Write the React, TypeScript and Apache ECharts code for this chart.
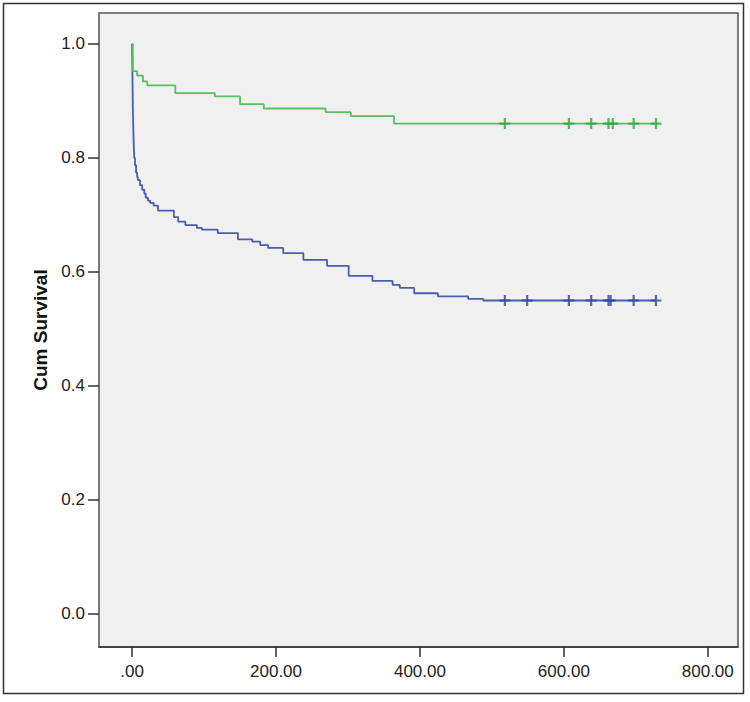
import React, { useEffect, useRef } from "react";
import * as echarts from "echarts";

// Kaplan-Meier steps: time where survival changes, and survival from that time on
const blueTimes = [0, 0.3, 0.7, 1, 1.5, 2, 2.5, 3, 4, 5.5, 7, 8, 11, 14, 17, 19, 22, 25, 30, 36, 58, 64, 74, 90, 97, 119, 147, 167, 178, 189, 210, 238, 271, 301, 334, 362, 372, 392, 425, 467, 488, 728];
const blueSurv = [1.0, 0.96, 0.92, 0.89, 0.86, 0.835, 0.815, 0.8, 0.787, 0.774, 0.766, 0.761, 0.752, 0.744, 0.737, 0.73, 0.725, 0.721, 0.716, 0.7075, 0.696, 0.688, 0.682, 0.677, 0.674, 0.668, 0.657, 0.653, 0.647, 0.642, 0.633, 0.621, 0.6105, 0.593, 0.584, 0.577, 0.572, 0.5625, 0.557, 0.5526, 0.5497, 0.5497];
const greenTimes = [0, 1, 7, 15, 21, 60, 115, 150, 183, 269, 304, 364, 730];
const greenSurv = [1.0, 0.952, 0.944, 0.934, 0.927, 0.9135, 0.9076, 0.894, 0.8865, 0.88, 0.873, 0.86, 0.86];

// censored observations (time)
const blueCensor = [518, 549, 607, 638, 662, 665, 697, 728];
const greenCensor = [518, 607, 638, 662, 668, 697, 728];

const xTicks = [0, 200, 400, 600, 800];
const yTicks = [0, 0.2, 0.4, 0.6, 0.8, 1.0];

const BLUE = "#4a5eae";
const BLUE_MARK = "#2f439c";
const GREEN = "#5cbd62";
const GREEN_MARK = "#2fa83a";
const FONT = "'Liberation Sans', Arial, sans-serif";

const PLUS = "path://M4,0h2v4h4v2h-4v4h-2v-4h-4v-2h4z";

function survAt(times: number[], surv: number[], t: number) {
  let v = surv[0];
  for (let i = 0; i < times.length; i++) if (times[i] <= t) v = surv[i];
  return v;
}

export default function App() {
  const ref = useRef<HTMLDivElement>(null);
  useEffect(() => {
    if (!ref.current) return;
    const chart = echarts.init(ref.current, null, { renderer: "svg" });
    const option: any = {
      animation: false,
      backgroundColor: "#ffffff",
      grid: {
        left: 99,
        top: 13,
        right: 12,
        bottom: 55,
        show: true,
        backgroundColor: "#f0f0f0",
        borderColor: "#555",
        borderWidth: 1.5,
      },
      xAxis: {
        type: "value",
        min: -46,
        max: 842,
        splitLine: { show: false },
        axisLine: { show: true, onZero: false, lineStyle: { color: "#333", width: 1.5 } },
        axisTick: { show: true, length: 10, customValues: xTicks, lineStyle: { color: "#333", width: 1.5 } },
        axisLabel: {
          customValues: xTicks,
          margin: 16,
          color: "#222",
          fontSize: 17,
          fontFamily: FONT,
          formatter: (v: number) => (v === 0 ? ".00" : v.toFixed(2)),
        },
      },
      yAxis: {
        type: "value",
        min: -0.058,
        max: 1.054,
        splitLine: { show: false },
        axisLine: { show: true, onZero: false, lineStyle: { color: "#777", width: 1.5 } },
        axisTick: { show: true, length: 11, customValues: yTicks, lineStyle: { color: "#333", width: 1.5 } },
        axisLabel: {
          customValues: yTicks,
          margin: 14,
          color: "#222",
          fontSize: 17,
          fontFamily: FONT,
          formatter: (v: number) => v.toFixed(1),
        },
      },
      graphic: [
        {
          type: "rect",
          shape: { x: 3.5, y: 3.5, width: 740, height: 690 },
          style: { fill: "none", stroke: "#333", lineWidth: 1.5 },
          silent: true,
          z: 100,
        },
        {
          type: "text",
          x: 40,
          y: 330,
          rotation: Math.PI / 2,
          style: {
            text: "Cum Survival",
            font: `bold 19px ${FONT}`,
            fill: "#111",
            textAlign: "center",
            textVerticalAlign: "middle",
          },
        },
      ],
      series: [
        {
          type: "line",
          step: "end",
          data: blueTimes.map((t, i) => [t, blueSurv[i]]),
          showSymbol: false,
          symbol: "none",
          lineStyle: { color: BLUE, width: 1.8 },
          z: 2,
        },
        {
          type: "line",
          step: "end",
          data: greenTimes.map((t, i) => [t, greenSurv[i]]),
          showSymbol: false,
          symbol: "none",
          lineStyle: { color: GREEN, width: 1.8 },
          z: 3,
        },
        {
          type: "scatter",
          data: blueCensor.map((t) => [t, survAt(blueTimes, blueSurv, t)]),
          symbol: PLUS,
          symbolSize: 11,
          itemStyle: { color: BLUE_MARK },
          z: 4,
        },
        {
          type: "scatter",
          data: greenCensor.map((t) => [t, survAt(greenTimes, greenSurv, t)]),
          symbol: PLUS,
          symbolSize: 11,
          itemStyle: { color: GREEN_MARK },
          z: 5,
        },
      ],
    };
    chart.setOption(option);
    return () => chart.dispose();
  }, []);
  return (
    <div
      ref={ref}
      style={{ position: "fixed", left: 0, top: 0, width: 750, height: 702 }}
    />
  );
}
